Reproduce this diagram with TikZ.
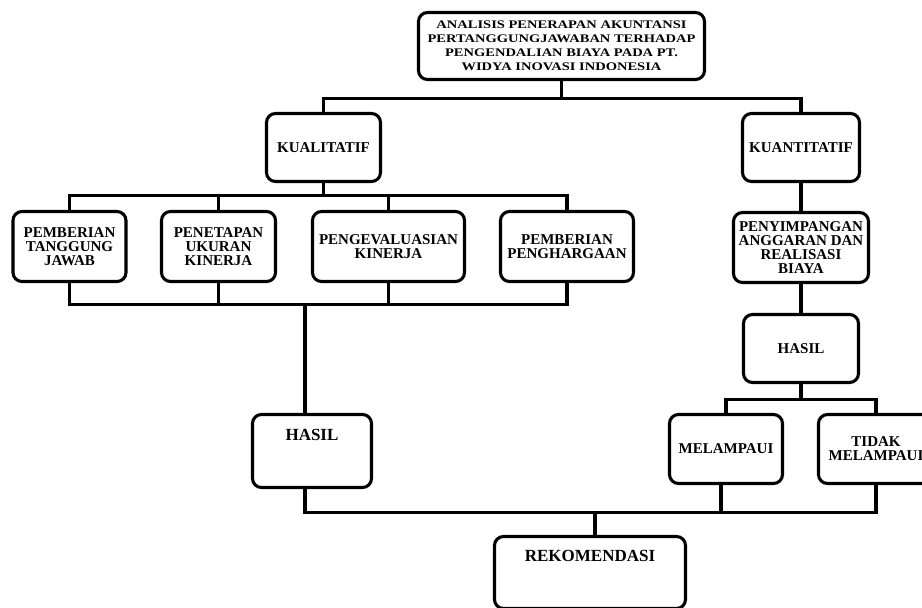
\documentclass[tikz,border=0pt]{standalone}
\usepackage{fontspec}
\setmainfont{Liberation Serif}
\newfontfamily\titlefont{Liberation Serif}[FakeStretch=1.25]

\begin{document}
\begin{tikzpicture}[x=1pt, y=-1pt, line width=3.1pt, box/.style={rectangle, draw, rounded corners=9pt, align=center, inner sep=2pt, font=\fontsize{15}{14}\selectfont\bfseries}, bigtext/.style={font=\fontsize{17}{17}\selectfont\bfseries}]
	\useasboundingbox (0,0) rectangle (922,608);

	\node (top) at (561.5,46) [box, minimum width=286pt, minimum height=67pt, font=\titlefont\fontsize{11.6}{14}\selectfont\bfseries] {ANALISIS PENERAPAN AKUNTANSI\\PERTANGGUNGJAWABAN TERHADAP\\PENGENDALIAN BIAYA PADA PT.\\WIDYA INOVASI INDONESIA};
	
	\node (kual) at (323.5,147.5) [box, minimum width=114pt, minimum height=68pt] {KUALITATIF};
	\node (kuan) at (801,147.5) [box, minimum width=117pt, minimum height=68pt] {KUANTITATIF};
	
	\node (pb1) at (69.5,246.5) [box, minimum width=113pt, minimum height=70pt] {PEMBERIAN\\TANGGUNG\\JAWAB};
	\node (pb2) at (218.5,246.5) [box, minimum width=114pt, minimum height=70pt] {PENETAPAN\\UKURAN\\KINERJA};
	\node (pb3) at (388.5,246.5) [box, minimum width=152pt, minimum height=70pt] {PENGEVALUASIAN\\KINERJA};
	\node (pb4) at (567,246.5) [box, minimum width=133pt, minimum height=70pt] {PEMBERIAN\\PENGHARGAAN};
	
	\node (peny) at (801,247.5) [box, minimum width=135pt, minimum height=70pt] {PENYIMPANGAN\\ANGGARAN DAN\\REALISASI\\BIAYA};
	\node (hasilR) at (801,348.5) [box, minimum width=115pt, minimum height=68pt] {HASIL};
	\node (mel) at (726,449) [box, minimum width=113pt, minimum height=69pt] {MELAMPAUI};
	\node (tidak) at (876,449) [box, minimum width=115pt, minimum height=69pt] {TIDAK\\MELAMPAUI};
	
	\node (hasilL) at (312,451) [box, minimum width=119pt, minimum height=73pt, label={[anchor=center, yshift=-22pt, bigtext]north:HASIL}] {};
	\node (rek) at (590,572.5) [box, minimum width=191pt, minimum height=72pt, label={[anchor=center, yshift=-21pt, bigtext]north:REKOMENDASI}] {};
	
	\draw[-] (top.south) -- ++(0,17) coordinate (b1) -| (kual.north);
	\draw[-] (b1) -| (kuan.north);
	
	\draw[-] (kual.south) -- ++(0,12) coordinate (b2) -| (pb1.north);
	\draw[-] (b2) -| (pb4.north);
	\draw[-] (pb2.north) -- (pb2.north |- b2);
	\draw[-] (pb3.north) -- (pb3.north |- b2);
	
	\draw[-] (pb1.south) -- ++(0,21) coordinate (b3) -| (pb4.south);
	\draw[-] (pb2.south) -- (pb2.south |- b3);
	\draw[-] (pb3.south) -- (pb3.south |- b3);
	\draw[-] ([xshift=-7pt]hasilL.north) -- ([xshift=-7pt]hasilL.north |- b3);
	
	\draw[-] (kuan.south) -- (peny.north);
	\draw[-] (peny.south) -- (hasilR.north);
	\draw[-] (hasilR.south) -- ++(0,15) coordinate (b5) -| (mel.north);
	\draw[-] (b5) -| (tidak.north);
	
	\draw[-] ([xshift=-7pt]hasilL.south) -- ++(0,23) coordinate (b4) -| (tidak.south);
	\draw[-] ([xshift=-5pt]mel.south) -- ([xshift=-5pt]mel.south |- b4);
	\draw[-] ([xshift=5pt]rek.north) -- ([xshift=5pt]rek.north |- b4);

\end{tikzpicture}
\end{document}
